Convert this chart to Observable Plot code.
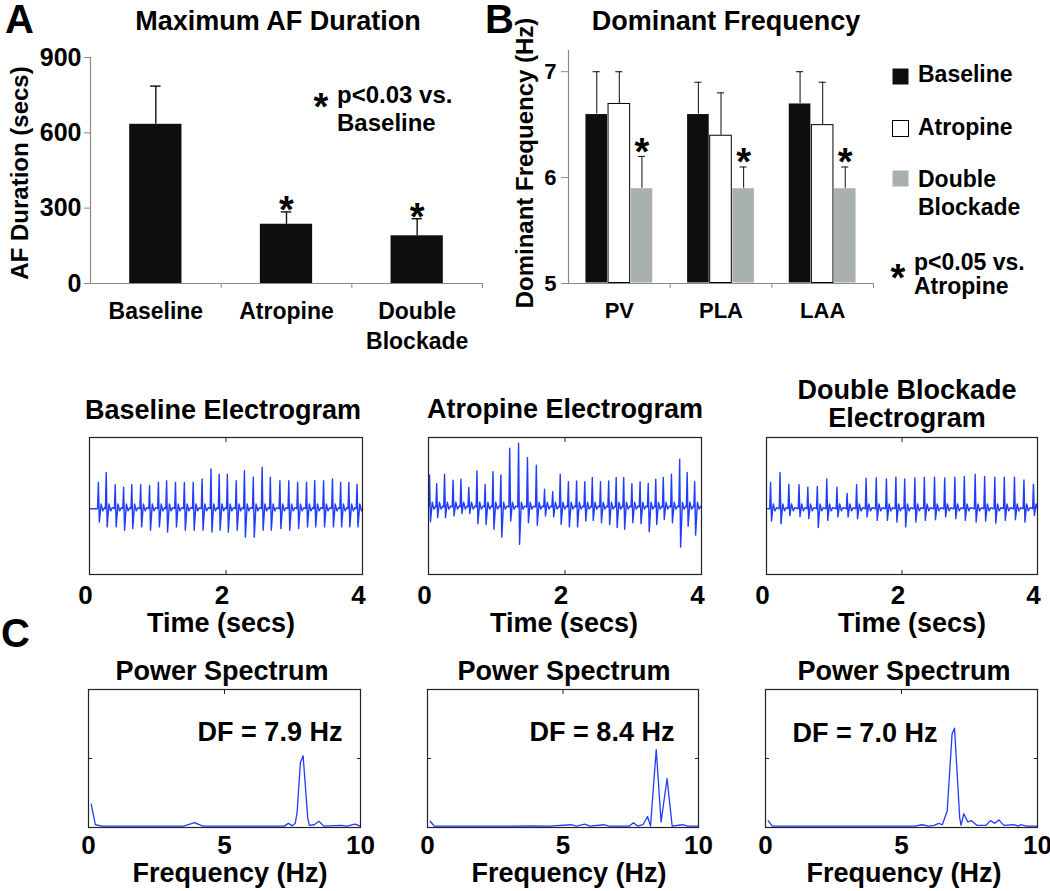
<!DOCTYPE html>
<html><head><meta charset="utf-8">
<script src="https://cdn.jsdelivr.net/npm/d3@7"></script>
<script src="https://cdn.jsdelivr.net/npm/@observablehq/plot@0.6"></script>
<style>
html,body{margin:0;padding:0;background:#fff;}
#fig{position:relative;width:1050px;height:891px;overflow:hidden;background:#fff;}
#fig svg{overflow:visible;}
svg.barsA g[aria-label="y-axis tick label"]{font-size:25px;}
svg.barsB g[aria-label="y-axis tick label"]{font-size:22px;}
svg.traces g[aria-label="x-axis tick label"]{font-size:26px;}
</style></head><body><div id="fig"></div>
<script>
// ---------------- DATA ----------------
// Panel A: maximum AF duration (secs)
const afCategories = ["Baseline", "Atropine", "Double\nBlockade"];
const afMean = [634, 236, 190];
const afErrTop = [786, 285, 258];
const afSignificant = [false, true, true];
const afTicks = [0, 300, 600, 900];

// Panel B: dominant frequency (Hz)
const dfSites = ["PV", "PLA", "LAA"];
const dfConditions = ["Baseline", "Atropine", "Double Blockade"];
const dfBaseline = [6.6, 6.6, 6.7];
const dfBaselineErr = [7.0, 6.9, 7.0];
const dfAtropine = [6.7, 6.4, 6.5];
const dfAtropineErr = [7.0, 6.8, 6.9];
const dfDouble = [5.9, 5.9, 5.9];
const dfDoubleErr = [6.2, 6.1, 6.1];
const dfTicks = [5, 6, 7];
const dfDomain = [5, 7.2];

// Electrograms: spike times (s), spike peak and trough (arbitrary units)
const egBaseTimes = [0.13,0.245,0.377,0.50,0.62,0.75,0.88,1.01,1.13,1.26,1.39,1.52,1.65,1.78,1.90,2.02,2.15,2.27,2.40,2.53,2.65,2.79,2.92,3.05,3.18,3.30,3.43,3.56,3.68,3.80,3.92];
const egBasePeaks = [0.69,0.98,0.62,0.55,0.62,0.62,0.60,0.69,0.74,0.69,0.69,0.69,0.79,1.08,0.93,0.93,0.74,1.03,0.84,1.13,0.84,0.74,0.74,0.69,0.69,0.74,0.74,0.79,0.69,0.69,0.64];
const egBaseTroughs = [-0.47,-0.61,-0.61,-0.71,-0.66,-0.61,-0.71,-0.61,-0.76,-0.61,-0.71,-0.71,-0.71,-0.76,-0.71,-0.76,-0.71,-0.91,-0.91,-0.71,-0.71,-0.66,-0.71,-0.66,-0.61,-0.61,-0.61,-0.61,-0.61,-0.61,-0.61];
const egBaseLevel = -0.08;

const egAtrTimes = [0.015,0.12,0.235,0.36,0.475,0.59,0.71,0.83,0.945,1.06,1.19,1.32,1.45,1.58,1.70,1.82,1.93,2.05,2.17,2.29,2.40,2.52,2.64,2.75,2.86,2.98,3.10,3.22,3.33,3.44,3.56,3.68,3.79,3.90];
const egAtrPeaks = [0.91,0.65,0.93,0.75,0.78,0.54,1.02,0.63,1.00,0.91,1.69,1.83,1.41,1.19,0.49,0.42,0.93,0.71,0.73,0.71,0.83,0.71,0.73,0.83,0.83,0.65,0.71,0.66,0.78,0.83,0.93,1.37,0.98,0.71];
const egAtrTroughs = [-0.46,-0.34,-0.34,-0.29,-0.22,-0.22,-0.52,-0.54,-0.68,-0.91,-0.44,-1.12,-0.49,-0.56,-0.29,-0.32,-0.54,-0.61,-0.61,-0.44,-0.42,-0.49,-0.54,-0.63,-0.68,-0.49,-0.52,-0.75,-0.54,-0.39,-0.49,-1.20,-0.59,-0.85];
const egAtrLevel = -0.03;

const egDblTimes = [0.06,0.20,0.33,0.48,0.61,0.75,0.89,1.04,1.19,1.33,1.47,1.62,1.77,1.91,2.04,2.19,2.33,2.48,2.63,2.78,2.92,3.08,3.22,3.37,3.51,3.66,3.80,3.94];
const egDblPeaks = [0.69,0.98,0.64,0.62,0.55,0.57,0.79,0.55,0.37,0.62,0.81,0.82,0.79,0.84,0.79,0.82,0.84,0.84,0.82,0.84,0.86,0.93,0.86,0.84,0.84,0.84,0.76,0.64];
const egDblTroughs = [-0.44,-0.52,-0.28,-0.31,-0.37,-0.63,-0.42,-0.32,-0.32,-0.37,-0.32,-0.42,-0.42,-0.47,-0.61,-0.47,-0.42,-0.40,-0.32,-0.37,-0.42,-0.47,-0.44,-0.50,-0.42,-0.40,-0.47,-0.28];
const egDblLevel = -0.08;
const egTicks = [0, 2, 4];

// Power spectra: [frequency (Hz), relative power]
const psBaseline = [[0.1,0.17],[0.25,0.02],[0.5,0.01],[3.5,0.01],[3.9,0.035],[4.2,0.01],[7.2,0.01],[7.35,0.03],[7.5,0.012],[7.6,0.03],[7.67,0.11],[7.79,0.47],[7.89,0.52],[8.06,0.07],[8.12,0.015],[8.3,0.02],[8.47,0.045],[8.65,0.01],[9.3,0.015],[9.5,0.01],[9.8,0.025],[10,0.01]];
const psAtropine = [[0.1,0.045],[0.25,0.01],[3.0,0.01],[3.8,0.012],[4.5,0.01],[5.3,0.02],[5.5,0.01],[5.8,0.025],[6.0,0.01],[6.5,0.02],[6.7,0.01],[7.45,0.01],[7.6,0.035],[7.75,0.01],[7.95,0.02],[8.12,0.08],[8.23,0.01],[8.44,0.565],[8.62,0.04],[8.84,0.355],[9.03,0.01],[9.4,0.02],[9.6,0.01],[10,0.01]];
const psDouble = [[0.1,0.05],[0.25,0.01],[5.5,0.01],[5.75,0.02],[6.0,0.01],[6.2,0.015],[6.37,0.03],[6.5,0.02],[6.68,0.12],[6.86,0.68],[6.95,0.72],[7.14,0.07],[7.19,0.015],[7.29,0.1],[7.44,0.04],[7.56,0.05],[7.78,0.015],[8.1,0.015],[8.27,0.05],[8.43,0.03],[8.58,0.055],[8.76,0.015],[9.13,0.02],[9.3,0.01],[9.38,0.02],[9.6,0.01],[10,0.01]];
const psTicks = [0, 5, 10];
const dfLabels = ["DF = 7.9 Hz", "DF = 8.4 Hz", "DF = 7.0 Hz"];

// ---------------- STYLE ----------------
const FONT = '"Liberation Sans", Arial, Helvetica, sans-serif';
const BAR_BLACK = "#0e0e0e";
const BAR_GRAY = "#a8b1af";
const AXIS_GRAY = "#8a8a8a";
const TRACE = "#1f3dfa";
const FRAME = "#222";
const fig = document.getElementById("fig");
const fmt = d => String(d);

function mount(node, left, top) {
  node.style.position = "absolute";
  node.style.left = left + "px";
  node.style.top = top + "px";
  fig.appendChild(node);
}
function baseStyle(size) {
  return {fontFamily: FONT, fontWeight: "bold", fontSize: size + "px", color: "#000", background: "none", overflow: "visible"};
}

// ---------------- PANEL A ----------------
const afRows = afCategories.map((c, i) => ({i, c, mean: afMean[i], err: afErrTop[i], sig: afSignificant[i]}));
mount(Plot.plot({
  className: "barsA",
  width: 500, height: 310,
  marginLeft: 90, marginRight: 18, marginTop: 17, marginBottom: 67,
  style: baseStyle(23),
  x: {domain: [0, afCategories.length], label: null},
  y: {domain: [afTicks[0], afTicks[afTicks.length - 1]], label: null},
  marks: [
    Plot.rectY(afRows, {x1: d => d.i + 0.3, x2: d => d.i + 0.7, y1: afTicks[0], y2: "mean", fill: BAR_BLACK}),
    Plot.ruleX(afRows, {x: d => d.i + 0.5, y1: "mean", y2: "err", stroke: "#111", strokeWidth: 1.4}),
    Plot.ruleY(afRows, {y: "err", x1: d => d.i + 0.46, x2: d => d.i + 0.54, stroke: "#111", strokeWidth: 1.4}),
    Plot.text(afRows.filter(d => d.sig), {x: d => d.i + 0.5, y: "err", text: () => "*", fontSize: 38, lineAnchor: "middle", dy: -1}),
    Plot.ruleX([0], {stroke: AXIS_GRAY, strokeWidth: 1.2}),
    Plot.ruleY([afTicks[0]], {stroke: AXIS_GRAY, strokeWidth: 1.2}),
    Plot.axisY({ticks: afTicks, tickSize: 6, tickPadding: 3, tickFormat: fmt, fontSize: 25, stroke: AXIS_GRAY, fill: "#000", label: null}),
    Plot.axisX({ticks: afCategories.map((c, i) => i + 1), tickSize: 5, tickFormat: () => "", stroke: AXIS_GRAY, label: null}),
    Plot.axisX({ticks: afCategories.map((c, i) => i + 0.5), tickSize: 0, tickPadding: 14, lineHeight: 1.3, fontSize: 23,
      tickFormat: v => afCategories[Math.floor(v)], fill: "#000", label: null})
  ]
}), 0, 40);

// ---------------- PANEL B ----------------
const dfSeries = [
  {vals: dfBaseline, errs: dfBaselineErr, fill: BAR_BLACK, stroke: "none"},
  {vals: dfAtropine, errs: dfAtropineErr, fill: "#fff", stroke: "#000"},
  {vals: dfDouble, errs: dfDoubleErr, fill: BAR_GRAY, stroke: "none"}
];
const dfRowsFor = c => dfSites.map((s, i) => ({s: i, c, mean: dfSeries[c].vals[i], err: dfSeries[c].errs[i]}));
const barX1 = d => d.s + 1 / 6 + d.c * 2 / 9;
const barX2 = d => d.s + 1 / 6 + (d.c + 1) * 2 / 9;
const barXc = d => d.s + 1 / 6 + (d.c + 0.5) * 2 / 9;
const dfMarks = [];
dfSeries.forEach((ser, c) => {
  const rows = dfRowsFor(c);
  dfMarks.push(Plot.rectY(rows, {x1: barX1, x2: barX2, y1: dfDomain[0], y2: "mean", fill: ser.fill, stroke: ser.stroke, strokeWidth: 1, inset: 0.5}));
  dfMarks.push(Plot.ruleX(rows, {x: barXc, y1: "mean", y2: "err", stroke: "#222", strokeWidth: 1.1}));
  dfMarks.push(Plot.ruleY(rows, {y: "err", x1: d => barXc(d) - 0.035, x2: d => barXc(d) + 0.035, stroke: "#222", strokeWidth: 1.1}));
});
dfMarks.push(Plot.text(dfRowsFor(2), {x: barXc, y: "err", text: () => "*", fontSize: 38, lineAnchor: "middle", dy: -4}));
mount(Plot.plot({
  className: "barsB",
  width: 380, height: 290,
  marginLeft: 68, marginRight: 7, marginTop: 10, marginBottom: 47,
  style: baseStyle(23),
  x: {domain: [0, dfSites.length], label: null},
  y: {domain: dfDomain, label: null},
  marks: [
    ...dfMarks,
    Plot.ruleX([0], {stroke: AXIS_GRAY, strokeWidth: 1.2}),
    Plot.ruleY([dfDomain[0]], {stroke: AXIS_GRAY, strokeWidth: 1.2}),
    Plot.axisY({ticks: dfTicks, tickSize: 7, tickPadding: 5, tickFormat: fmt, fontSize: 22, stroke: AXIS_GRAY, fill: "#000", label: null}),
    Plot.axisX({ticks: dfSites.map((s, i) => i + 1), tickSize: 5, tickFormat: () => "", stroke: AXIS_GRAY, label: null}),
    Plot.axisX({ticks: dfSites.map((s, i) => i + 0.5), tickSize: 0, tickPadding: 19, fontSize: 22,
      tickFormat: v => dfSites[Math.floor(v)], fill: "#000", label: null})
  ]
}), 500, 40);

// ---------------- ELECTROGRAMS ----------------
function egTrace(times, peaks, troughs, level) {
  const pts = [{t: 0, v: level}];
  times.forEach((t, i) => {
    pts.push({t: t - 0.012, v: level}, {t, v: peaks[i]}, {t: t + 0.014, v: troughs[i]},
             {t: t + 0.04, v: level + 0.14}, {t: t + 0.065, v: level - 0.06}, {t: t + 0.09, v: level + 0.03});
  });
  pts.push({t: 4, v: level});
  return pts.filter(p => p.t >= 0 && p.t <= 4);
}
function egPlot(trace, frameW) {
  return Plot.plot({
    className: "traces",
    width: frameW + 44, height: 183,
    marginLeft: 30, marginRight: 14, marginTop: 10, marginBottom: 36,
    style: baseStyle(26),
    x: {domain: [0, 4], label: null},
    y: {domain: [-2, 2], label: null, axis: null},
    marks: [
      Plot.line(trace, {x: "t", y: "v", stroke: TRACE, strokeWidth: 1.4}),
      Plot.frame({stroke: FRAME, strokeWidth: 1.2}),
      Plot.axisX({ticks: egTicks, tickSize: 0, tickPadding: 11, dx: -4, tickFormat: fmt, fontSize: 26, fill: "#000", label: null}),
      Plot.axisX({anchor: "top", ticks: [2], tickSize: -4, tickFormat: () => "", stroke: FRAME, label: null}),
      Plot.axisX({anchor: "bottom", ticks: [2], tickSize: -4, tickFormat: () => "", stroke: FRAME, label: null})
    ]
  });
}
mount(egPlot(egTrace(egBaseTimes, egBasePeaks, egBaseTroughs, egBaseLevel), 273), 59, 427);
mount(egPlot(egTrace(egAtrTimes, egAtrPeaks, egAtrTroughs, egAtrLevel), 273), 398, 427);
mount(egPlot(egTrace(egDblTimes, egDblPeaks, egDblTroughs, egDblLevel), 271), 736, 427);

// ---------------- POWER SPECTRA ----------------
function psPlot(spec, frameW) {
  return Plot.plot({
    className: "traces",
    width: frameW + 44, height: 178,
    marginLeft: 30, marginRight: 14, marginTop: 10, marginBottom: 30,
    style: baseStyle(26),
    x: {domain: [0, 10], label: null},
    y: {domain: [0, 1], label: null},
    marks: [
      Plot.line(spec, {x: d => d[0], y: d => d[1], stroke: TRACE, strokeWidth: 1.3}),
      Plot.frame({stroke: FRAME, strokeWidth: 1.2}),
      Plot.axisX({ticks: psTicks, tickSize: 0, tickPadding: 8, tickFormat: fmt, fontSize: 26, fill: "#000", label: null}),
      Plot.axisX({anchor: "top", ticks: [5], tickSize: -4, tickFormat: () => "", stroke: FRAME, label: null}),
      Plot.axisY({anchor: "left", ticks: [0.5], tickSize: -4, tickFormat: () => "", stroke: FRAME, label: null}),
      Plot.axisY({anchor: "right", ticks: [0.5], tickSize: -4, tickFormat: () => "", stroke: FRAME, label: null})
    ]
  });
}
mount(psPlot(psBaseline, 272), 58, 679);
mount(psPlot(psAtropine, 271), 397, 679);
mount(psPlot(psDouble, 272), 735, 679);

// ---------------- TEXT OVERLAY ----------------
const overlay = d3.create("svg").attr("width", 1050).attr("height", 891)
  .style("position", "absolute").style("left", "0px").style("top", "0px")
  .style("font-family", FONT).style("font-weight", "bold").style("overflow", "visible");
const labels = [
  {t: "A", x: 5, y: 33, s: 40, a: "start"},
  {t: "B", x: 485, y: 33, s: 40, a: "start"},
  {t: "C", x: 1, y: 647, s: 40, a: "start"},
  {t: "Maximum AF Duration", x: 278, y: 30, s: 27},
  {t: "Dominant Frequency", x: 726, y: 30, s: 27},
  {t: "AF Duration (secs)", x: 28, y: 173, s: 24, r: -90},
  {t: "Dominant Frequency (Hz)", x: 533, y: 163, s: 24, r: -90},
  {t: "*", x: 321, y: 120, s: 38},
  {t: "p<0.03 vs.", x: 337, y: 103, s: 24, a: "start"},
  {t: "Baseline", x: 337, y: 131, s: 24, a: "start"},
  {t: "Baseline", x: 918, y: 82, s: 23, a: "start"},
  {t: "Atropine", x: 918, y: 135, s: 23, a: "start"},
  {t: "Double", x: 918, y: 187, s: 23, a: "start"},
  {t: "Blockade", x: 918, y: 215, s: 23, a: "start"},
  {t: "*", x: 898, y: 291, s: 38},
  {t: "p<0.05 vs.", x: 914, y: 270, s: 23, a: "start"},
  {t: "Atropine", x: 914, y: 294, s: 23, a: "start"},
  {t: "Baseline Electrogram", x: 223, y: 419, s: 27},
  {t: "Atropine Electrogram", x: 565, y: 418, s: 27},
  {t: "Double Blockade", x: 907, y: 399, s: 27},
  {t: "Electrogram", x: 907, y: 427, s: 27},
  {t: "Time (secs)", x: 221, y: 632, s: 27},
  {t: "Time (secs)", x: 564, y: 632, s: 27},
  {t: "Time (secs)", x: 912, y: 632, s: 27},
  {t: "Power Spectrum", x: 222, y: 680, s: 27},
  {t: "Power Spectrum", x: 564, y: 680, s: 27},
  {t: "Power Spectrum", x: 904, y: 680, s: 27},
  {t: "Frequency (Hz)", x: 230, y: 882, s: 27},
  {t: "Frequency (Hz)", x: 569, y: 882, s: 27},
  {t: "Frequency (Hz)", x: 904, y: 882, s: 27},
  {t: dfLabels[0], x: 270, y: 741, s: 27},
  {t: dfLabels[1], x: 602, y: 741, s: 27},
  {t: dfLabels[2], x: 865, y: 742, s: 27}
];
labels.forEach(l => {
  overlay.append("text")
    .attr("transform", `translate(${l.x},${l.y})` + (l.r ? ` rotate(${l.r})` : ""))
    .attr("text-anchor", l.a === "start" ? "start" : "middle")
    .attr("font-size", l.s).attr("fill", "#000").text(l.t);
});
// legend swatches for panel B
const swatches = [
  {c: 0, y: 68}, {c: 1, y: 120}, {c: 2, y: 170}
];
swatches.forEach(sw => {
  overlay.append("rect").attr("x", 892.5).attr("y", sw.y + 0.5).attr("width", 16).attr("height", 16)
    .attr("fill", dfSeries[sw.c].fill)
    .attr("stroke", dfSeries[sw.c].stroke === "none" ? "none" : "#000").attr("stroke-width", 1);
});
fig.appendChild(overlay.node());
</script></body></html>
